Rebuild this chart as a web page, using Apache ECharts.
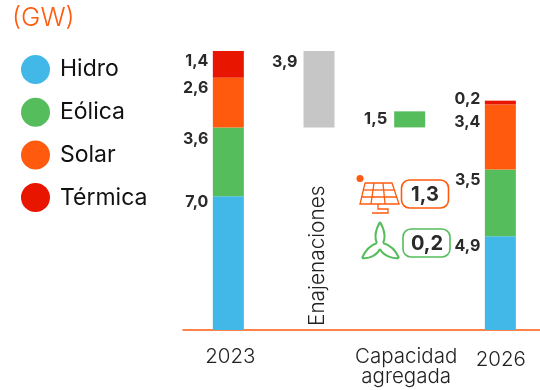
<!DOCTYPE html>
<html><head><meta charset="utf-8">
<script src="https://cdn.jsdelivr.net/npm/echarts@6/dist/echarts.min.js"></script>
<style>html,body{margin:0;background:#fff;overflow:hidden;width:540px;height:390px}#c{width:560px;height:390px}</style></head>
<body><div id="c"></div>
<script>
const categories = ['2023', 'Enajenaciones', 'Capacidad\nagregada', '2026'];
const hidro   = [7.0, null, null, 4.9];
const eolica  = [3.6, null, null, 3.5];
const solar   = [2.6, null, null, 3.4];
const termica = [1.4, null, null, 0.2];
const enajBase = [null, 10.6, null, null];
const enajVal  = [null, 4.0, null, null];
const addBase = [null, null, 10.6, null];
const addVal  = [null, null, 0.84, null];
const lblHidro = ['7,0', '', '', '4,9'];
const lblEolica = ['3,6', '', '', '3,5'];
const lblSolar = ['2,6', '', '', '3,4'];
const lblTermica = ['1,4', '', '', '0,2'];
const lblEnaj = ['', '3,9', '', ''];
const lblAdd = ['', '', '1,5', ''];
const addedSolar = '1,3';
const addedWind = '0,2';

const BLUE='#41b8e8', GREEN='#56bd5c', ORANGE='#ff5a0d', RED='#e81500', GREY='#c6c6c6', INK='#2a2a2a';
const W=31;
function mk(name, vals, color, texts, dys){
  return {name, type:'bar', stack:'a', barWidth:W, itemStyle:{color}, silent:true,
    data: vals.map((v,i)=>({value:v, label: texts[i]?{show:true, formatter:texts[i], position:'left', distance:4.5,
      offset:[0, dys[i]||0], color:INK, fontFamily:'Inter', fontWeight:700, fontSize:16}:{show:false}}))};
}
function pl(points,color,w){return {type:'polyline', shape:{points}, style:{fill:'none',stroke:color,lineWidth:w}};}
function bz(a,c1,c2,b,color,w){return {type:'bezierCurve', shape:{x1:a[0],y1:a[1],cpx1:c1[0],cpy1:c1[1],cpx2:c2[0],cpy2:c2[1],x2:b[0],y2:b[1]}, style:{fill:'none',stroke:color,lineWidth:w}};}
const chart = echarts.init(document.getElementById('c'), null, {renderer:'canvas'});
const S=1.3, T=2;
chart.setOption({
  animation:false,
  backgroundColor:'#fff',
  title:{text:'(GW)', left:7, top:0, textStyle:{color:ORANGE, fontFamily:'Inter', fontWeight:300, fontSize:26}},
  legend:{orient:'vertical', left:16, top:50, icon:'circle', itemWidth:29, itemHeight:29, itemGap:13.7,
    data:['Hidro','Eólica','Solar','Térmica'], selectedMode:false,
    textStyle:{color:'#111', fontFamily:'Inter', fontSize:23, padding:[0,0,0,5]}},
  grid:{left:183, width:362.7, top:20, bottom:60},
  xAxis:{type:'category', axisTick:{show:false},
    data:[{value:categories[0], textStyle:{padding:[0,0,0,4]}}, {value:''},
          {value:categories[2], textStyle:{padding:[0,7,0,0]}}, {value:categories[3], textStyle:{padding:[3,0,0,1]}}],
    axisLine:{lineStyle:{color:ORANGE, width:1.5}},
    axisLabel:{color:'#222', fontFamily:'Inter', fontSize:20.5, fontWeight:300, lineHeight:20, margin:17, interval:0}},
  yAxis:{type:'value', min:0, max:16.22, show:false, splitLine:{show:false}},
  series:[
    mk('Hidro', hidro, BLUE, lblHidro, [-60.5,0,0,-37]),
    mk('Eólica', eolica, GREEN, lblEolica, [-23,0,0,-23]),
    mk('Solar', solar, ORANGE, lblSolar, [-14,0,0,-15]),
    mk('Térmica', termica, RED, lblTermica, [-3.5,0,0,-3]),
    {name:'enajBase', type:'bar', stack:'b', barWidth:W, barGap:'-100%', itemStyle:{color:'transparent'}, silent:true,
     data:enajBase, label:{show:true, position:'insideBottom', rotate:90, align:'left', verticalAlign:'middle', distance:8, offset:[-4,-1],
       formatter:p=>p.value!=null?categories[1]:'', color:'#222', fontFamily:'Inter', fontSize:20.8, fontWeight:300}},
    {name:'enaj', type:'bar', stack:'b', barWidth:W, itemStyle:{color:GREY}, silent:true,
     data:enajVal, label:{show:true, position:'left', distance:6, offset:[0,-26.5], formatter:p=>lblEnaj[p.dataIndex], color:INK, fontFamily:'Inter', fontWeight:700, fontSize:16}},
    {name:'addBase', type:'bar', stack:'c', barWidth:W, barGap:'-100%', itemStyle:{color:'transparent'}, silent:true, data:addBase},
    {name:'add', type:'bar', stack:'c', barWidth:W, itemStyle:{color:GREEN}, silent:true,
     data:addVal, label:{show:true, position:'left', distance:7, formatter:p=>lblAdd[p.dataIndex], color:INK, fontFamily:'Inter', fontWeight:700, fontSize:16.5}}
  ],
  graphic:[
    {type:'circle', shape:{cx:360,cy:178.5,r:3.5}, style:{fill:ORANGE}},
    pl([[365,183],[392,183],[399,204],[360,204],[365,183]],ORANGE,S),
    pl([[374,183],[371,204]],ORANGE,S), pl([[383,183],[385,204]],ORANGE,S),
    pl([[363,190],[394,190]],ORANGE,S), pl([[361.5,197],[397,197]],ORANGE,S),
    pl([[378,204],[378,209],[388,209],[388,213],[372,213]],ORANGE,S),
    bz([380,222],[374,232],[375,240],[377,243],GREEN,T), bz([380,222],[386,232],[385,240],[383,243],GREEN,T),
    bz([377,243],[371,245],[365,251],[362,258],GREEN,T), bz([362,258],[370,259],[377,255],[380,249],GREEN,T),
    bz([383,243],[390,245],[396,251],[399,258],GREEN,T), bz([399,258],[391,259],[383,255],[380,249],GREEN,T),
    {type:'rect', shape:{x:401.5,y:180,width:47,height:28,r:8}, style:{fill:'#fff',stroke:ORANGE,lineWidth:1.6}},
    {type:'text', x:425, y:195, style:{text:addedSolar, align:'center', verticalAlign:'middle', fill:INK, font:'700 20px Inter'}},
    {type:'rect', shape:{x:403,y:229,width:47,height:28,r:8}, style:{fill:'#fff',stroke:GREEN,lineWidth:1.6}},
    {type:'text', x:427, y:244, style:{text:addedWind, align:'center', verticalAlign:'middle', fill:INK, font:'700 20px Inter'}}
  ]
});
</script></body></html>
